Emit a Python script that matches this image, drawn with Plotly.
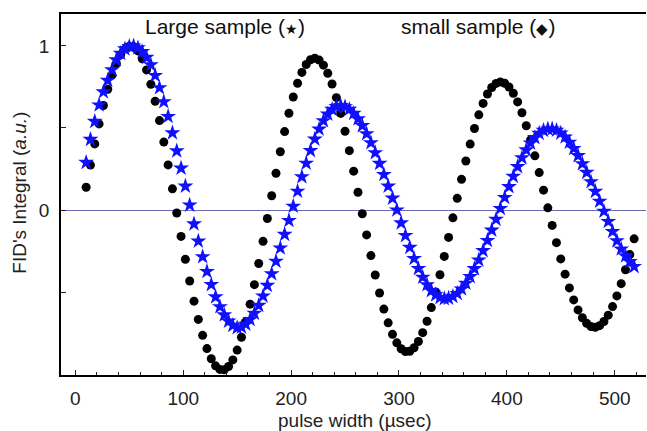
import plotly.graph_objects as go

pulse_width = [10, 14, 18, 22, 26, 30, 34, 38, 42, 46, 50, 54, 58, 62, 66, 70, 74, 78, 82, 86,
               90, 94, 98, 102, 106, 110, 114, 118, 122, 126, 130, 134, 138, 142, 146, 150,
               154, 158, 162, 166, 170, 174, 178, 182, 186, 190, 194, 198, 202, 206, 210,
               214, 218, 222, 226, 230, 234, 238, 242, 246, 250, 254, 258, 262, 266, 270,
               274, 278, 282, 286, 290, 294, 298, 302, 306, 310, 314, 318, 322, 326, 330,
               334, 338, 342, 346, 350, 354, 358, 362, 366, 370, 374, 378, 382, 386, 390,
               394, 398, 402, 406, 410, 414, 418, 422, 426, 430, 434, 438, 442, 446, 450,
               454, 458, 462, 466, 470, 474, 478, 482, 486, 490, 494, 498, 502, 506, 510,
               514, 518]

# small sample (black circles)
small_sample = [0.139, 0.274, 0.403, 0.525, 0.637, 0.736, 0.822, 0.893, 0.946, 0.981,
                0.998, 0.995, 0.970, 0.922, 0.854, 0.767, 0.663, 0.545, 0.414, 0.275,
                0.129, -0.018, -0.161, -0.301, -0.433, -0.556, -0.667, -0.764, -0.845, -0.907,
                -0.950, -0.972, -0.974, -0.954, -0.914, -0.854, -0.776, -0.682, -0.574, -0.455,
                -0.326, -0.191, -0.052, 0.087, 0.224, 0.355, 0.478, 0.590, 0.689, 0.773,
                0.839, 0.887, 0.916, 0.925, 0.914, 0.883, 0.834, 0.768, 0.685, 0.589,
                0.480, 0.362, 0.237, 0.108, -0.023, -0.152, -0.278, -0.396, -0.506, -0.604,
                -0.688, -0.758, -0.810, -0.846, -0.863, -0.861, -0.840, -0.802, -0.748, -0.678,
                -0.595, -0.500, -0.395, -0.283, -0.167, -0.048, 0.071, 0.187, 0.299, 0.402,
                0.497, 0.580, 0.650, 0.707, 0.747, 0.772, 0.781, 0.773, 0.750, 0.712,
                0.659, 0.593, 0.514, 0.427, 0.330, 0.228, 0.121, 0.013, -0.094, -0.199,
                -0.298, -0.391, -0.475, -0.548, -0.609, -0.657, -0.691, -0.711, -0.715, -0.705,
                -0.680, -0.641, -0.589, -0.524, -0.449, -0.364, -0.272, -0.176]

# large sample (blue stars)
large_sample = [0.29, 0.43, 0.54, 0.64, 0.72, 0.79, 0.855, 0.915, 0.955, 0.982,
                0.997, 1.0, 0.988, 0.965, 0.93, 0.885, 0.82, 0.745, 0.66, 0.57,
                0.47, 0.36, 0.255, 0.145, 0.03, -0.085, -0.19, -0.285, -0.375, -0.455,
                -0.53, -0.59, -0.64, -0.678, -0.704, -0.718,
                -0.714, -0.697, -0.668, -0.630, -0.582, -0.525, -0.460, -0.389, -0.313, -0.232, -0.149, -0.064,
                0.023, 0.114, 0.202, 0.285, 0.362, 0.432, 0.493, 0.544, 0.584, 0.613, 0.630, 0.636,
                0.629, 0.614, 0.589, 0.555, 0.514, 0.465, 0.410, 0.349, 0.284, 0.216, 0.145, 0.072,
                0.000, -0.079, -0.156, -0.228, -0.296, -0.357, -0.410, -0.456, -0.492, -0.518, -0.534, -0.541,
                -0.538, -0.527, -0.509, -0.482, -0.447, -0.406, -0.358, -0.305, -0.248, -0.186, -0.123, -0.057,
                0.009, 0.076, 0.142, 0.205, 0.264, 0.318, 0.366, 0.408, 0.441, 0.467, 0.485, 0.494,
                0.494, 0.486, 0.469, 0.445, 0.413, 0.375, 0.331, 0.282, 0.229, 0.172, 0.113, 0.053,
                -0.008, -0.070, -0.131, -0.188, -0.238, -0.280, -0.315, -0.345]

x_ticks = [0, 100, 200, 300, 400, 500]
y_ticks = [-0.5, 0, 0.5, 1]
y_ticktext = ["", "0", "", "1"]

FONT = "Liberation Sans, Arial, sans-serif"

fig = go.Figure()
fig.add_trace(go.Scatter(
    x=pulse_width, y=small_sample, mode="markers",
    marker=dict(symbol="circle", size=9, color="black", line=dict(width=0)),
    name="small sample", showlegend=False))
fig.add_trace(go.Scatter(
    x=pulse_width, y=large_sample, mode="markers",
    marker=dict(symbol="star", size=12, color="#1010ff", line=dict(width=0)),
    name="Large sample", showlegend=False))

fig.update_layout(
    width=647, height=431,
    margin=dict(l=61, r=1, t=14, b=56),
    paper_bgcolor="white", plot_bgcolor="white",
    font=dict(family=FONT, size=19, color="#222"),
    xaxis=dict(range=[-13.3, 529], tickvals=x_ticks, ticks="inside", ticklen=5,
               tickwidth=1.2, tickcolor="#222", showgrid=False, zeroline=False,
               showline=True, linecolor="black", linewidth=1.5, mirror=True,
               ticklabelstandoff=5,
               tickfont=dict(family=FONT, size=19, color="#222"),
               minor=dict(dtick=20, tick0=0, ticks="inside", ticklen=3,
                          tickcolor="#222", tickwidth=1)),
    yaxis=dict(range=[-1.006, 1.195], tickvals=y_ticks, ticktext=y_ticktext,
               ticks="inside", ticklen=5, tickwidth=1.2, tickcolor="#222",
               showgrid=False, zeroline=True, zerolinecolor="#6b6bb3",
               zerolinewidth=1.3, showline=True, linecolor="black", linewidth=1.5,
               ticklabelstandoff=6,
               tickfont=dict(family=FONT, size=19, color="#222")),
    annotations=[
        dict(text="Large sample (<span style='font-size:14px'>★</span>)",
             x=138.7, y=1.116, xref="x", yref="y", showarrow=False,
             font=dict(family=FONT, size=21, color="#111")),
        dict(text="small sample (<span style='font-size:15px'>◆</span>)",
             x=373.7, y=1.116, xref="x", yref="y", showarrow=False,
             font=dict(family=FONT, size=21, color="#111")),
        dict(text="FID's Integral (<i>a.u.</i>)", textangle=-90,
             x=-0.0701, y=0.505, xref="paper", yref="paper", showarrow=False,
             xanchor="center", yanchor="middle",
             font=dict(family=FONT, size=19, color="#222")),
        dict(text="pulse width (µsec)",
             x=0.5026, y=-0.1247, xref="paper", yref="paper", showarrow=False,
             xanchor="center", yanchor="middle",
             font=dict(family=FONT, size=19, color="#222")),
    ],
)

fig.write_html("out.html", config={"displayModeBar": False},
               post_script="document.body.style.margin='0';document.body.style.padding='0';document.body.style.overflow='hidden';")
